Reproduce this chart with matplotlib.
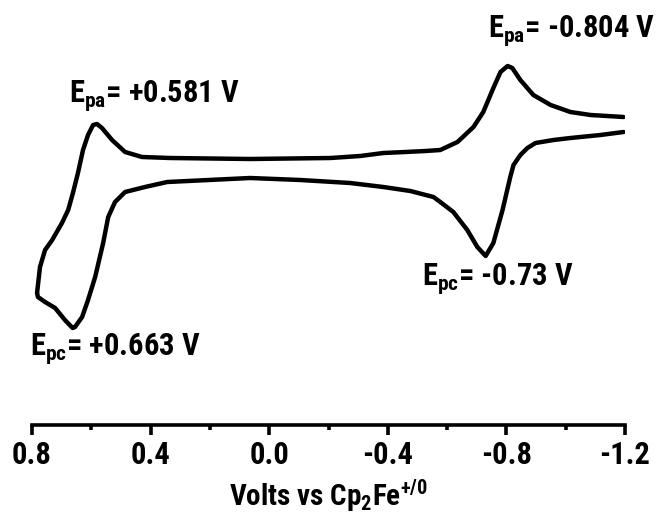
import matplotlib
matplotlib.use("Agg")
import matplotlib.pyplot as plt
from matplotlib.ticker import MultipleLocator

plt.rcParams['font.family'] = ['Roboto Condensed', 'DejaVu Sans']
plt.rcParams['font.stretch'] = 'condensed'
plt.rcParams['font.weight'] = 'bold'

# forward sweep, potential (V vs Fc+/Fc) and current (arb. units)
E_fwd = [0.783, 0.773, 0.756, 0.732, 0.699, 0.678, 0.662, 0.645, 0.628, 0.611,
         0.594, 0.581, 0.564, 0.530, 0.486, 0.429, 0.334, 0.064, -0.206, -0.307,
         -0.385, -0.459, -0.527, -0.577, -0.635, -0.689, -0.722, -0.756, -0.780,
         -0.804, -0.820, -0.847, -0.891, -0.949, -1.016, -1.084, -1.195]
I_fwd = [-4.3, -1.7, 0.0, 1.0, 2.7, 4.0, 5.7, 7.7, 10.0, 11.5,
         12.5, 12.6, 12.2, 11.0, 9.8, 9.3, 9.2, 9.1, 9.2, 9.4,
         9.7, 9.8, 9.9, 10.0, 10.8, 12.3, 13.8, 16.2, 17.8,
         18.4, 18.2, 17.0, 15.5, 14.5, 13.8, 13.5, 13.3]

# return sweep
E_rev = [-1.195, -1.117, -1.016, -0.959, -0.898, -0.871, -0.847, -0.824,
         -0.813, -0.787, -0.756, -0.730, -0.702, -0.668, -0.621, -0.577, -0.554,
         -0.476, -0.385, -0.273, -0.105, 0.064, 0.344, 0.419, 0.486, 0.520,
         0.543, 0.560, 0.587, 0.611, 0.631, 0.655, 0.663, 0.689, 0.722, 0.756,
         0.780, 0.783]
I_rev = [11.8, 11.5, 11.2, 11.0, 10.7, 10.2, 9.5, 8.5,
         7.3, 4.0, 0.7, -0.6, 0.3, 2.0, 3.8, 4.8, 5.3,
         5.9, 6.3, 6.7, 7.0, 7.2, 6.8, 6.3, 5.8, 4.8,
         3.3, 0.7, -2.7, -5.0, -6.7, -7.7, -7.8, -7.0, -5.8, -5.2,
         -4.7, -4.3]

labels = [r'E$_{\mathregular{pa}}$= +0.581 V', r'E$_{\mathregular{pa}}$= -0.804 V',
          r'E$_{\mathregular{pc}}$= -0.73 V', r'E$_{\mathregular{pc}}$= +0.663 V']
label_pos = [(0.675, 14.8), (-0.739, 21.3), (-0.516, -3.5), (0.807, -10.5)]

fig = plt.figure(figsize=(6.57, 5.22), dpi=100)
ax = fig.add_axes([32/657, 97/522, 593/657, 385/522])

for E, I in [(E_fwd, I_fwd), (E_rev, I_rev)]:
    ax.plot(E, I, color='black', lw=3.2, solid_joinstyle='round', solid_capstyle='round')

for txt, (x, y) in zip(labels, label_pos):
    ax.text(x, y, txt, fontsize=22, ha='left', va='baseline', clip_on=False)

ax.set_xlim(0.8, -1.2)
ax.set_ylim(-17.5, 21)

for s in ['left', 'right', 'top']:
    ax.spines[s].set_visible(False)
ax.spines['bottom'].set_linewidth(2.6)
ax.set_yticks([])

ax.xaxis.set_minor_locator(MultipleLocator(0.2))
ax.tick_params(axis='x', which='major', length=7, width=2.6, labelsize=22, pad=4)
ax.tick_params(axis='x', which='minor', length=3.5, width=2.6)
ax.set_xticks([0.8, 0.4, 0.0, -0.4, -0.8, -1.2])
ax.set_xticklabels(['0.8', '0.4', '0.0', '-0.4', '-0.8', '-1.2'])

ax.set_xlabel(r'Volts vs Cp$_{\mathregular{2}}$Fe$^{\mathregular{+/0}}$',
              fontsize=21, fontweight='bold', labelpad=5)

fig.savefig('out.png', dpi=100)
